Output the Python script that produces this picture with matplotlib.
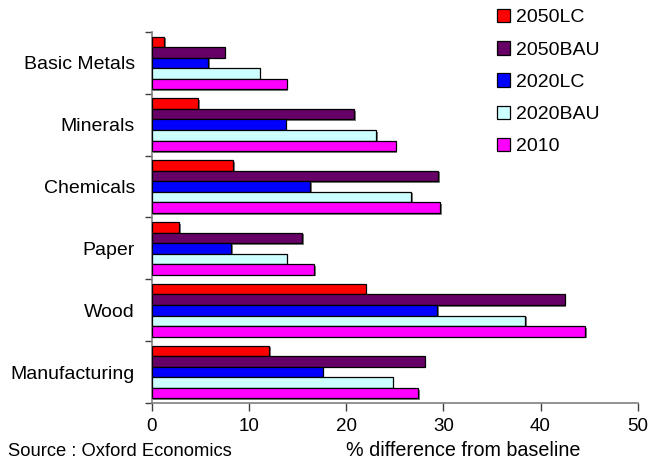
import matplotlib
matplotlib.use("Agg")
import matplotlib.pyplot as plt
import matplotlib.patheffects as pe
from matplotlib.patches import Patch
import numpy as np

plt.rcParams['font.family'] = ['Liberation Sans', 'DejaVu Sans']

sectors = ["Basic Metals", "Minerals", "Chemicals", "Paper", "Wood", "Manufacturing"]
series = ["2050LC", "2050BAU", "2020LC", "2020BAU", "2010"]
colors = ["#FF0000", "#660066", "#0000FF", "#CCFFFF", "#FF00FF"]

v_2050lc = [1.3, 4.8, 8.4, 2.8, 22.0, 12.1]
v_2050bau = [7.5, 20.8, 29.5, 15.5, 42.5, 28.1]
v_2020lc = [5.8, 13.8, 16.3, 8.2, 29.4, 17.6]
v_2020bau = [11.1, 23.1, 26.7, 13.9, 38.4, 24.8]
v_2010 = [13.9, 25.1, 29.7, 16.7, 44.6, 27.4]
values = [v_2050lc, v_2050bau, v_2020lc, v_2020bau, v_2010]

xticks = [0, 10, 20, 30, 40, 50]

fig = plt.figure(figsize=(6.49, 4.63), dpi=100)
ax = fig.add_axes([0.2337, 0.1296, 0.9826 - 0.2337, 0.9309 - 0.1296])

n = len(sectors)
centers = np.arange(n)[::-1]  # first sector at top
bar_h = 0.17
shadow = [pe.SimplePatchShadow(offset=(1.2, -1.2), shadow_rgbFace="#7f7f7f", alpha=1.0), pe.Normal()]

for i, (name, vals, col) in enumerate(zip(series, values, colors)):
    ypos = centers + (2 - i) * bar_h
    bars = ax.barh(ypos, vals, height=bar_h, color=col, edgecolor="black",
                   linewidth=0.9, label=name, zorder=3)
    for b in bars:
        b.set_path_effects(shadow)

ax.set_xlim(0, 50)
ax.set_ylim(-0.5, n - 0.5)
ax.set_xticks(xticks)
ax.set_xticklabels([str(t) for t in xticks], fontsize=13.5)
ax.set_yticks(centers)
ax.set_yticklabels(sectors, fontsize=14)
ax.set_yticks(np.arange(-0.5, n, 1.0), minor=True)

ax.tick_params(axis="y", which="major", length=0, pad=12)
ax.tick_params(axis="y", which="minor", length=5, width=1.0, color="#404040", direction="out")
ax.tick_params(axis="x", which="major", length=6, width=1.0, color="#404040", direction="out", pad=5)

for s in ["top", "right"]:
    ax.spines[s].set_visible(False)
ax.spines["left"].set_color("#808080")
ax.spines["bottom"].set_color("#808080")
ax.spines["left"].set_linewidth(1.2)
ax.spines["bottom"].set_linewidth(1.2)

handles = [Patch(facecolor=c, edgecolor="black", linewidth=0.9) for c in colors]
fig.legend(handles, series, loc="upper left", bbox_to_anchor=(493 / 649, 1 - 5 / 463),
           frameon=False, fontsize=14, handlelength=0.68, handleheight=0.68,
           handletextpad=0.3, labelspacing=0.76, borderaxespad=0, borderpad=0.2)

fig.text(8 / 649, 1 - 451 / 463, "Source : Oxford Economics", fontsize=13.2, va="center", ha="left")
fig.text(463 / 649, 1 - 451 / 463, "% difference from baseline", fontsize=14.2, va="center", ha="center")

fig.savefig("out.png", dpi=100)
